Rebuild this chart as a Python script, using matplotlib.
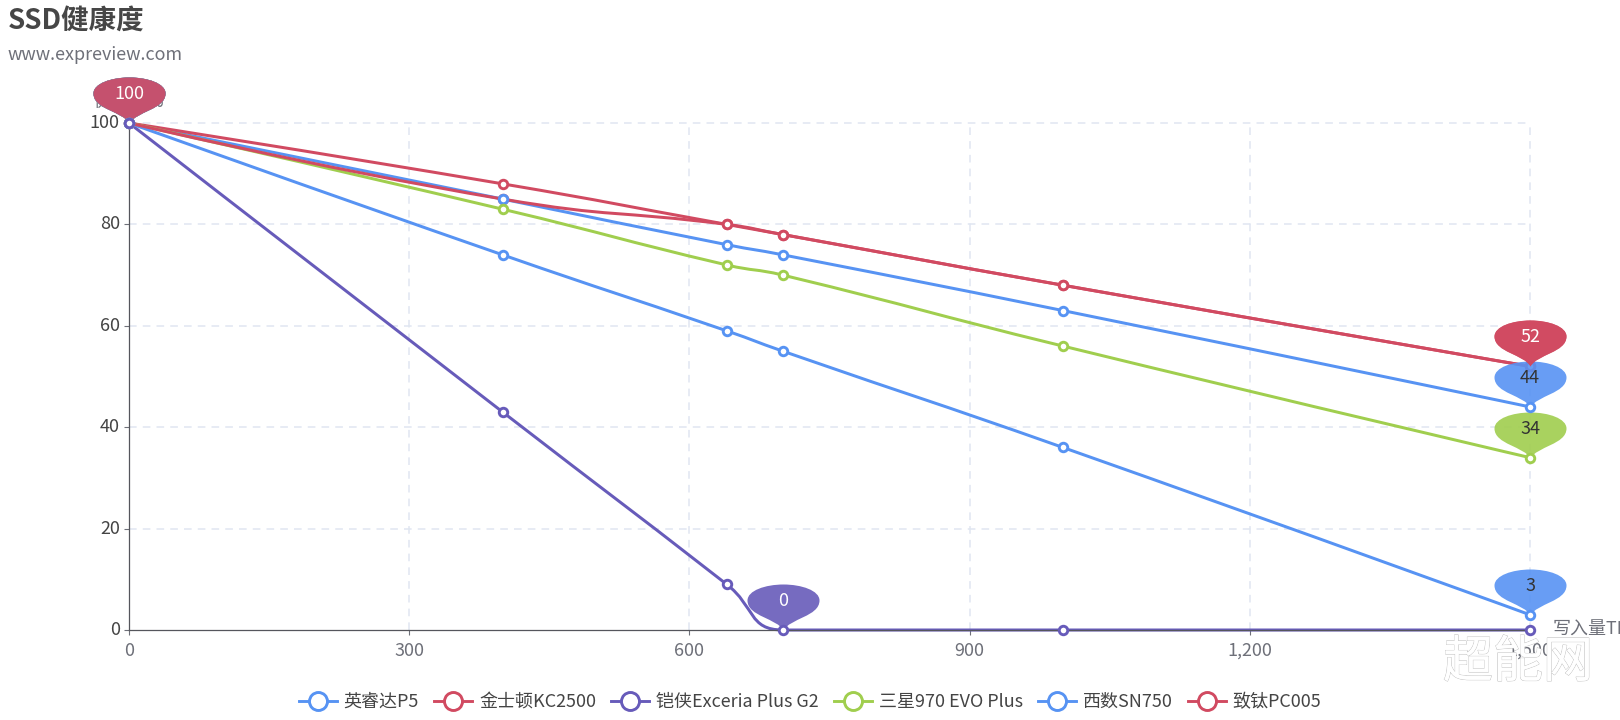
import numpy as np
import matplotlib
matplotlib.use("Agg")
import matplotlib.pyplot as plt
from matplotlib.path import Path
from matplotlib.patches import PathPatch
from matplotlib.lines import Line2D
from matplotlib.transforms import ScaledTranslation
import matplotlib.patheffects as pe

plt.rcParams['font.family'] = ['Noto Sans CJK SC', 'DejaVu Sans']

W, H, DPI = 1620, 720, 100
PX = 72 / DPI

writes = [0, 400, 640, 700, 1000, 1500]
names = ['英睿达P5', '金士顿KC2500', '铠侠Exceria Plus G2', '三星970 EVO Plus', '西数SN750', '致钛PC005']
p5 = [100, 85, 76, 74, 63, 44]
kc2500 = [100, 88, 80, 78, 68, 52]
exceria = [100, 43, 9, 0, 0, 0]
evo970 = [100, 83, 72, 70, 56, 34]
sn750 = [100, 74, 59, 55, 36, 3]
pc005 = [100, 85, 80, 78, 68, 52]
series = [p5, kc2500, exceria, evo970, sn750, pc005]
colors = ['#5793f3', '#d14a61', '#675bba', '#a0ce4e', '#5793f3', '#d14a61']
pin_text = ['#333333', '#ffffff', '#ffffff', '#333333', '#333333', '#ffffff']
xticks = [0, 300, 600, 900, 1200, 1500]
xticklabels = ['0', '300', '600', '900', '1,200', '1,500']
yticks = [0, 20, 40, 60, 80, 100]

L, R, T, B = 129, 1530, 123, 630
fig = plt.figure(figsize=(W / DPI, H / DPI), dpi=DPI, facecolor='white')
ax = fig.add_axes([L / W, 1 - B / H, (R - L) / W, (B - T) / H])
ax.set_xlim(0, 1500)
ax.set_ylim(0, 100)
sx, sy = (R - L) / 1500, (B - T) / 100


def smooth_path(xs, ys, smooth=0.5):
    """ECharts-style clamped smoothing, computed in pixel space."""
    pts = np.column_stack([np.asarray(xs) * sx, np.asarray(ys) * sy]).astype(float)
    n = len(pts)
    verts = [pts[0]]
    codes = [Path.MOVETO]
    cp0 = pts[0].copy()
    for i in range(1, n):
        p, cur = pts[i - 1], pts[i]
        if i < n - 1:
            nxt = pts[i + 1]
            v = nxt - p
            l0 = np.hypot(*(cur - p))
            l1 = np.hypot(*(nxt - cur))
            ratio = l1 / (l0 + l1)
            nc = cur + v * smooth * ratio
            nc = np.minimum(nc, np.maximum(nxt, cur))
            nc = np.maximum(nc, np.minimum(nxt, cur))
            v2 = nc - cur
            c1 = cur - v2 * l0 / l1
            c1 = np.minimum(c1, np.maximum(p, cur))
            c1 = np.maximum(c1, np.minimum(p, cur))
            v3 = cur - c1
            nc = cur + v3 * l1 / l0
        else:
            c1 = cur.copy()
            nc = cur.copy()
        verts += [cp0, c1, cur]
        codes += [Path.CURVE4] * 3
        cp0 = nc
    verts = np.array(verts) / np.array([sx, sy])
    return Path(verts, codes)


# pin marker outline, tip at the origin (pixels)
PIN = Path(
    [(0, 0),
     (-6, 12), (-36, 14), (-36, 30),
     (-36, 40), (-18, 46), (0, 46),
     (18, 46), (36, 40), (36, 30),
     (36, 14), (6, 12), (0, 0),
     (0, 0)],
    [Path.MOVETO] + [Path.CURVE4] * 12 + [Path.CLOSEPOLY])
PIN_MS = 2 * 46 * PX
FS = 18 * PX

# grid
for g in xticks[1:]:
    ax.axvline(g, color='#e0e6f1', lw=1.1, dashes=(5, 4), zorder=1, clip_on=False)
for g in yticks[1:]:
    ax.axhline(g, color='#e0e6f1', lw=1.1, dashes=(5, 4), zorder=1, clip_on=False)

# spines and ticks
for s in ('top', 'right'):
    ax.spines[s].set_visible(False)
for s in ('left', 'bottom'):
    ax.spines[s].set_color('#55565c')
    ax.spines[s].set_linewidth(0.9)
ax.set_xticks(xticks, xticklabels)
ax.set_yticks(yticks)
ax.tick_params(axis='x', length=5 * PX, width=0.8, color='#6e7079', labelcolor='#6e7079',
               labelsize=FS, pad=5)
ax.tick_params(axis='y', length=5 * PX, width=0.8, color='#6e7079', labelcolor='#444444',
               labelsize=FS, pad=3)
up = ScaledTranslation(0, 2 / DPI, fig.dpi_scale_trans)
for lab in ax.get_yticklabels():
    lab.set_transform(lab.get_transform() + up)

ax.annotate('写入量TB', xy=(1500, 0), xytext=(23 * PX, 0), textcoords='offset points',
            ha='left', va='center', fontsize=FS, color='#6e7079', annotation_clip=False)
ax.annotate('健康度%', xy=(0, 100), xytext=(0, 21 * PX), textcoords='offset points',
            ha='center', va='center', fontsize=FS, color='#6e7079', annotation_clip=False)

# lines, markers, pins
for i, (vals, c) in enumerate(zip(series, colors)):
    ax.add_patch(PathPatch(smooth_path(writes, vals), fill=False, edgecolor=c, lw=3.0 * PX,
                           zorder=2 + i * 0.01, clip_on=False, capstyle='round'))
    mz = 3.5 if c == '#d14a61' else (6.5 if i == 2 else 6)
    ax.plot(writes, vals, ls='none', marker='o', ms=8.5 * PX, mfc='white', mec=c, mew=2.9 * PX,
            zorder=mz + i * 0.01, clip_on=False)
    vv = np.asarray(vals)
    for k in (int(np.argmax(vv)), int(np.argmin(vv))):
        ax.plot([writes[k]], [vals[k]], ls='none', marker=PIN, ms=PIN_MS, mfc=c, mec='none',
                alpha=0.9, zorder=4 + i * 0.1, clip_on=False)
        ax.annotate(str(vals[k]), xy=(writes[k], vals[k]), xytext=(0, 29 * PX),
                    textcoords='offset points', ha='center', va='center', fontsize=FS,
                    color=pin_text[i], zorder=4.05 + i * 0.1, annotation_clip=False)

# legend
handles = [Line2D([], [], color=c, lw=2.9 * PX, marker='o', ms=18 * PX, mfc='white', mec=c,
                  mew=2.9 * PX) for c in colors]
fig.legend(handles, names, loc='center', bbox_to_anchor=(810 / W, 1 - 702 / H), ncols=6,
           frameon=False, fontsize=FS, handlelength=38 / 18, handletextpad=7 / 18,
           columnspacing=15 / 18, labelcolor='#444444', borderpad=0, borderaxespad=0)

# title
fig.text(8 / W, 1 - 21 / H, 'SSD健康度', fontsize=27.5 * PX, fontweight='bold', color='#464646',
         ha='left', va='center')
fig.text(8 / W, 1 - 55 / H, 'www.expreview.com', fontsize=18 * PX, color='#6e7079',
         ha='left', va='center')

# watermark
wm = fig.text(1518 / W, 1 - 663 / H, '超能网', fontsize=50 * PX, color='white', ha='center', va='center',
              zorder=20)
wm.set_path_effects([pe.withStroke(linewidth=0.8, foreground='#bdbdbd'),
                     pe.Normal()])

fig.savefig('out.png', dpi=DPI)
